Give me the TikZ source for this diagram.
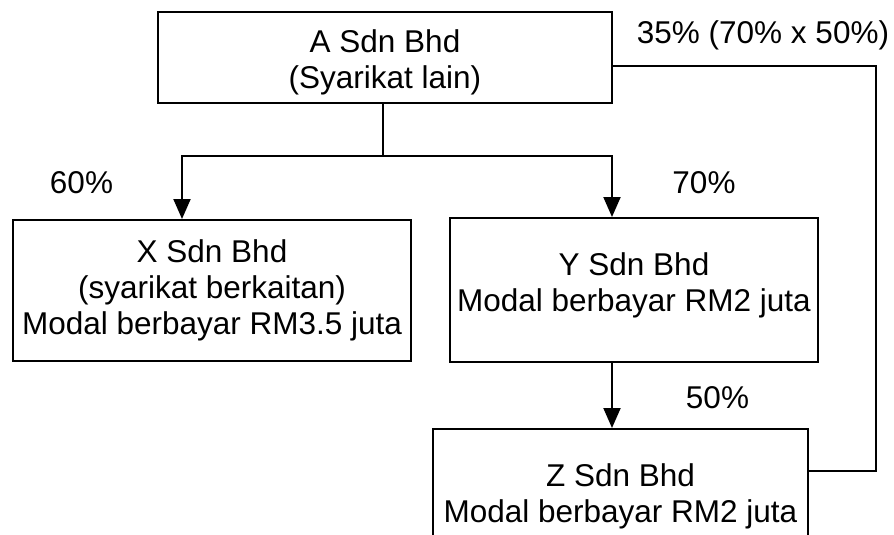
\documentclass[tikz,border=0pt]{standalone}
\usepackage{fontspec}
\setmainfont{Liberation Sans}
\usetikzlibrary{arrows.meta}
\begin{document}
\begin{tikzpicture}[x=1pt,y=-1pt,
  box/.style={draw=black,line width=2pt,rectangle,inner sep=0pt},
  txt/.style={inner sep=0pt,align=center,font=\fontsize{31.5}{36}\selectfont},
  conn/.style={line width=2pt},
  arr/.style={line width=2pt,-{Triangle[length=20pt,width=17pt]}}]
\useasboundingbox (0,0) rectangle (894,535);
\clip (0,0) rectangle (894,535);
% boxes
\node[box,minimum width=454pt,minimum height=91pt] (A) at (385,57.5) {};
\node[txt] (At) at (385,62) {A Sdn Bhd\\(Syarikat lain)};
\node[box,minimum width=398pt,minimum height=141pt] (X) at (212,290.5) {};
\node[txt] (Xt) at (212,290) {X Sdn Bhd\\(syarikat berkaitan)\\Modal berbayar RM3.5 juta};
\node[box,minimum width=368pt,minimum height=144pt] (Y) at (634,290) {};
\node[txt] (Yt) at (634,285) {Y Sdn Bhd\\Modal berbayar RM2 juta};
\node[box,minimum width=375pt,minimum height=135pt] (Z) at (620.5,496.5) {};
\node[txt] (Zt) at (620.5,496.5) {Z Sdn Bhd\\Modal berbayar RM2 juta};
% labels
\node[txt] (l60) at (81.5,183) {60\%};
\node[txt] (l70) at (704,183) {70\%};
\node[txt] (l50) at (717.5,398) {50\%};
\node[txt] (l35) at (763,35) {35\% (70\% x 50\%)};
% connectors
\coordinate (j) at (383,156);
\coordinate (xl) at (182,156);
\coordinate (yr) at (612,156);
\coordinate (r1) at (876,66);
\coordinate (r2) at (876,471);
\draw[conn] (A.south -| j) -- (j);
\draw[arr] (j) -- (xl) -- (xl |- X.north);
\draw[arr] (j) -- (yr) -- (yr |- Y.north);
\draw[arr] (Y.south -| yr) -- (Z.north -| yr);
\draw[conn] (A.east |- r1) -- (r1) -- (r2) -- (Z.east |- r2);
\end{tikzpicture}
\end{document}
